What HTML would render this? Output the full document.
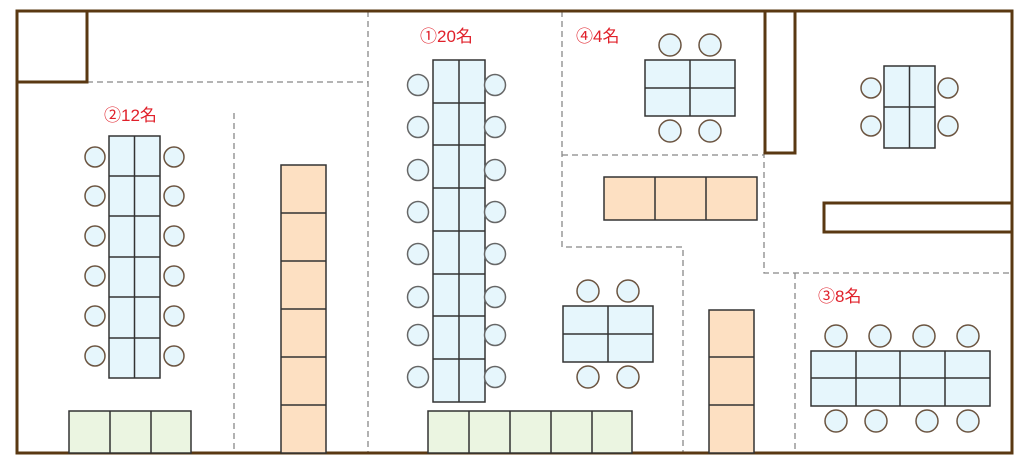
<!DOCTYPE html>
<html><head><meta charset="utf-8"><style>
html,body{margin:0;padding:0;background:#fff;width:1024px;height:464px;overflow:hidden}
svg{display:block}
text{font-family:"Liberation Sans","Noto Sans CJK JP",sans-serif;fill:#e0202a;font-size:17px}
</style></head><body>
<svg width="1024" height="464" viewBox="0 0 1024 464" xmlns="http://www.w3.org/2000/svg">
<g fill="none" stroke="#888" stroke-width="1.3" stroke-dasharray="6,4">
<path d="M87 82H368"/><path d="M368 11V453"/><path d="M234 113V453"/>
<path d="M562 11V247H683V453"/><path d="M562 155H764"/>
<path d="M764 152V273H1012"/><path d="M795 273V453"/>
</g>
<g fill="none" stroke="#5a3812" stroke-width="3">
<rect x="17" y="11" width="995" height="442"/>
<path d="M17 82H87V11"/>
<rect x="765" y="11" width="30" height="142"/>
<path d="M1012 203H824V232H1012"/>
</g>
<g stroke="#333" stroke-width="1.5">
<!-- table 2 -->
<rect x="109" y="136" width="51" height="242" fill="#e6f6fc"/>
<path d="M134.5 136V378M109 176H160M109 216H160M109 257H160M109 297H160M109 338H160" fill="none"/>
<!-- orange column -->
<rect x="281" y="165" width="45" height="288" fill="#fde0c2"/>
<path d="M281 213H326M281 261H326M281 309H326M281 357H326M281 405H326" fill="none"/>
<!-- green left -->
<rect x="69" y="411" width="122" height="42" fill="#ebf5e1"/>
<path d="M110 411V453M151 411V453" fill="none"/>
<!-- table 1 -->
<rect x="433" y="60" width="52" height="342" fill="#e6f6fc"/>
<path d="M459 60V402M433 103H485M433 145H485M433 188H485M433 231H485M433 274H485M433 316H485M433 359H485" fill="none"/>
<!-- green mid -->
<rect x="428" y="411" width="204" height="42" fill="#ebf5e1"/>
<path d="M469 411V453M510 411V453M551 411V453M592 411V453" fill="none"/>
<!-- table 4 -->
<rect x="645" y="60" width="90" height="56" fill="#e6f6fc"/>
<path d="M690 60V116M645 88H735" fill="none"/>
<!-- right table -->
<rect x="884" y="66" width="51" height="82" fill="#e6f6fc"/>
<path d="M909.5 66V148M884 107H935" fill="none"/>
<!-- orange horizontal -->
<rect x="604" y="177" width="153" height="43" fill="#fde0c2"/>
<path d="M655 177V220M706 177V220" fill="none"/>
<!-- middle table -->
<rect x="563" y="306" width="90" height="56" fill="#e6f6fc"/>
<path d="M608 306V362M563 334H653" fill="none"/>
<!-- orange vertical -->
<rect x="709" y="310" width="45" height="143" fill="#fde0c2"/>
<path d="M709 357H754M709 405H754" fill="none"/>
<!-- table 3 -->
<rect x="811" y="351" width="179" height="55" fill="#e6f6fc"/>
<path d="M856 351V406M900 351V406M945 351V406M811 378H990" fill="none"/>
</g>
<g fill="#e6f6fc" stroke="#6b5440" stroke-width="1.5">
<circle cx="95" cy="157" r="10"/><circle cx="95" cy="196" r="10"/><circle cx="95" cy="236" r="10"/><circle cx="95" cy="276" r="10"/><circle cx="95" cy="316" r="10"/><circle cx="95" cy="356" r="10"/>
<circle cx="174" cy="157" r="10"/><circle cx="174" cy="196" r="10"/><circle cx="174" cy="236" r="10"/><circle cx="174" cy="276" r="10"/><circle cx="174" cy="316" r="10"/><circle cx="174" cy="356" r="10"/>
<g stroke="#666">
<circle cx="418" cy="85" r="10.5"/><circle cx="418" cy="127" r="10.5"/><circle cx="418" cy="170" r="10.5"/><circle cx="418" cy="212" r="10.5"/><circle cx="418" cy="254" r="10.5"/><circle cx="418" cy="297" r="10.5"/><circle cx="418" cy="335" r="10.5"/><circle cx="418" cy="377" r="10.5"/>
<circle cx="495" cy="85" r="10.5"/><circle cx="495" cy="127" r="10.5"/><circle cx="495" cy="170" r="10.5"/><circle cx="495" cy="212" r="10.5"/><circle cx="495" cy="254" r="10.5"/><circle cx="495" cy="297" r="10.5"/><circle cx="495" cy="335" r="10.5"/><circle cx="495" cy="377" r="10.5"/>
</g>
<circle cx="670" cy="45" r="11"/><circle cx="710" cy="45" r="11"/><circle cx="670" cy="131" r="11"/><circle cx="710" cy="131" r="11"/>
<circle cx="871" cy="88" r="10"/><circle cx="948" cy="88" r="10"/><circle cx="871" cy="126" r="10"/><circle cx="948" cy="126" r="10"/>
<circle cx="588" cy="291" r="11"/><circle cx="628" cy="291" r="11"/><circle cx="588" cy="377" r="11"/><circle cx="628" cy="377" r="11"/>
<circle cx="836" cy="336" r="11"/><circle cx="880" cy="336" r="11"/><circle cx="924" cy="336" r="11"/><circle cx="968" cy="336" r="11"/>
<circle cx="836" cy="421" r="11"/><circle cx="876" cy="421" r="11"/><circle cx="927" cy="421" r="11"/><circle cx="968" cy="421" r="11"/>
</g>
<text x="104" y="121">②12名</text>
<text x="420" y="42">①20名</text>
<text x="576" y="42">④4名</text>
<text x="818" y="302">③8名</text>
</svg>
</body></html>
